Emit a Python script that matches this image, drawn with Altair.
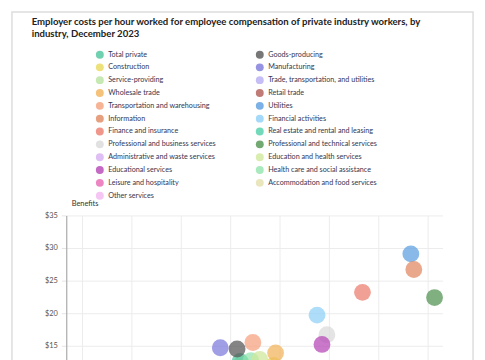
import altair as alt
import pandas as pd

# Legend order (column-major: left column then right column)
industries = [
    "Total private", "Construction", "Service-providing", "Wholesale trade",
    "Transportation and warehousing", "Information", "Finance and insurance",
    "Professional and business services", "Administrative and waste services",
    "Educational services", "Leisure and hospitality", "Other services",
    "Goods-producing", "Manufacturing", "Trade, transportation, and utilities",
    "Retail trade", "Utilities", "Financial activities",
    "Real estate and rental and leasing", "Professional and technical services",
    "Education and health services", "Health care and social assistance",
    "Accommodation and food services",
]
wages = [31.0, 34.4, 31.2, 34.6, 32.3, 48.6, 43.4, 39.8, 23.9, 39.3, 16.9, 26.7,
         30.7, 29.0, 25.9, 20.4, 48.3, 38.8, 29.4, 50.7, 33.0, 32.1, 15.9]
benefits = [12.6, 12.0, 12.2, 13.9, 15.5, 26.7, 23.2, 16.7, 8.5, 15.2, 4.3, 9.2,
            14.5, 14.7, 11.0, 7.5, 29.1, 19.7, 11.3, 22.4, 12.9, 12.7, 3.8]
colors = ["#4cc59c", "#e8d95a", "#b8e2a0", "#f2b35a", "#f5a07c", "#e0875f",
          "#ec7c6e", "#d9d9d9", "#d7aef2", "#b545b5", "#e866b3", "#f3b6f0",
          "#555555", "#7b78db", "#b6acf2", "#b05a55", "#5a9ee0", "#8fd0f7",
          "#4fcfaa", "#4f924f", "#cfe89a", "#92e3ae", "#e3e0ac"]
# drawing order (lower drawn first)
draw_z = [10, 8, 9, 16, 11, 22, 20, 17, 4, 18, 1, 5,
          15, 14, 6, 3, 21, 19, 7, 23, 13, 12, 2]

df = pd.DataFrame({"Industry": industries, "Wages": wages,
                   "Benefits": benefits, "z": draw_z})

FONT = "Lato"

border = alt.Chart(alt.Data(values=[{"a": 1}])).mark_rect(
    fillOpacity=0, stroke="#dddddd", strokeWidth=1.5
).encode(
    x=alt.value(-55), x2=alt.value(412), y=alt.value(-206), y2=alt.value(420)
)

points = alt.Chart(df).mark_point(
    filled=True, size=290, fillOpacity=0.72, strokeWidth=1, strokeOpacity=0.9
).encode(
    x=alt.X("Wages:Q", title="Wages and salaries",
            scale=alt.Scale(domain=[13.4, 51.5], nice=False, zero=False),
            axis=alt.Axis(values=[15, 20, 25, 30, 35, 40, 45, 50], format="$.0f",
                          grid=True, gridColor="#ececec", domain=False,
                          ticks=False, labelFontSize=7.5, labelColor="#555",
                          titleFontSize=8, titleFontWeight="normal",
                          titleColor="#333", labelFont=FONT, titleFont=FONT)),
    y=alt.Y("Benefits:Q", title="Benefits",
            scale=alt.Scale(domain=[0, 35], nice=False),
            axis=alt.Axis(values=[0, 5, 10, 15, 20, 25, 30, 35], format="$.0f",
                          grid=True, gridColor="#ececec", domainColor="#aaaaaa",
                          domainWidth=1.2, tickColor="#e4e4e4", tickSize=5,
                          labelPadding=4, labelFontSize=7.5, labelColor="#555",
                          labelFont=FONT, titleFont=FONT, titleFontSize=7.5,
                          titleFontWeight="normal", titleColor="#333",
                          titleAngle=0, titleAlign="left", titleBaseline="alphabetic",
                          titleX=5, titleY=-10)),
    color=alt.Color("Industry:N",
                    scale=alt.Scale(domain=industries, range=colors),
                    legend=alt.Legend(orient="none", legendX=29.5, legendY=-167.5,
                                      columns=2, columnPadding=39, rowPadding=4,
                                      symbolSize=64, symbolStrokeWidth=1,
                                      symbolType="circle", labelFontSize=7.3,
                                      labelFont=FONT, labelColor="#363650",
                                      labelLimit=300, padding=0, title=None,
                                      symbolOpacity=0.8)),
    order=alt.Order("z:Q"),
    tooltip=["Industry:N", "Wages:Q", "Benefits:Q"],
)

chart = alt.layer(border, points).properties(
    width=381, height=231,
    autosize="none",
    padding={"left": 59, "top": 207, "right": 35, "bottom": 45},
    title=alt.TitleParams(
        text=["Employer costs per hour worked for employee compensation of private industry workers, by",
              "industry, December 2023"],
        anchor="start", frame="group", dx=-35, dy=27.5, offset=0,
        font=FONT, fontSize=9.7, fontWeight="bold", color="#222222", lineHeight=11.5,
    ),
).configure_view(stroke=None)

chart.save("out.html", embed_options={"renderer": "svg", "actions": False})
